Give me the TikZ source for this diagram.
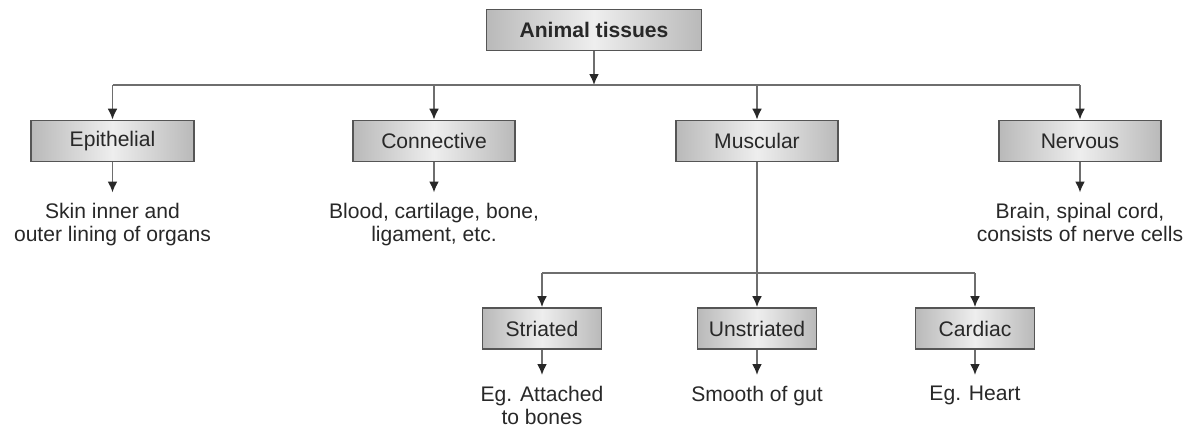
\documentclass[tikz,border=0pt]{standalone}
\usepackage{fontspec}
\setmainfont{Liberation Sans}
\usepackage{xcolor}
\usetikzlibrary{
  arrows.meta,
  positioning,
  calc,
}
\definecolor{boxedge}{RGB}{85,85,85}
\definecolor{boxside}{RGB}{185,185,185}
\definecolor{boxmid}{RGB}{238,238,238}
\definecolor{linecol}{RGB}{110,110,110}
\definecolor{inkcol}{RGB}{40,40,40}
\tikzset{
  tissuebox/.style={
    rectangle, draw=boxedge, line width=1pt,
    left color=boxside, right color=boxside, middle color=boxmid,
    minimum height=0.82cm, inner sep=2pt,
    font=\fontsize{12}{13}\selectfont, text=inkcol
  },
  topbox/.style={tissuebox, minimum width=4.3cm, font=\fontsize{12}{13}\selectfont\bfseries},
  mainbox/.style={tissuebox, minimum width=3.25cm},
  subbox/.style={tissuebox, minimum width=2.38cm},
  notetext/.style={
    align=center, inner xsep=1pt, inner ysep=6pt,
    font=\fontsize{12}{13}\selectfont, text=inkcol, anchor=north
  },
  downarrow/.style={
    draw=linecol, line width=1.1pt,
    -{Latex[length=2.2mm,width=2mm,color=inkcol]}
  },
  busline/.style={draw=linecol, line width=1.1pt},
}

\begin{document}
\begin{tikzpicture}
  \useasboundingbox (0,0) rectangle (23.78,-8.54);

  % ── Root ──
  \node[topbox] (tissues) at (11.88,-0.6) {Animal tissues};

  % ── Main tissue types ──
  \node[mainbox] (epith) at (2.25,-2.82) {Epithelial};
  \node[mainbox] (conn)  at (8.68,-2.82) {Connective};
  \node[mainbox] (musc)  at (15.14,-2.82) {Muscular};
  \node[mainbox] (nerv)  at (21.6,-2.82) {Nervous};

  % ── Muscle types ──
  \node[subbox] (striat)   at (10.84,-6.57) {Striated};
  \node[subbox] (unstriat) at (15.14,-6.57) {Unstriated};
  \node[subbox] (cardiac)  at (19.5,-6.57) {Cardiac};

  % ── Descriptions ──
  \node[notetext] (epithnote) at (2.25,-3.85)
    {Skin inner and\\outer lining of organs};
  \node[notetext] (connnote) at (8.68,-3.85)
    {Blood, cartilage, bone,\\ligament, etc.};
  \node[notetext] (nervnote) at (21.6,-3.85)
    {Brain, spinal cord,\\consists of nerve cells};
  \node[notetext] (striatnote) at (10.84,-7.5)
    {Eg. Attached\\to bones};
  \node[notetext] (unstriatnote) at (15.14,-7.5) {Smooth of gut};
  \node[notetext] (cardiacnote) at (19.5,-7.5) {Eg. Heart};

  % ── Branch lines ──
  \coordinate (busA) at (0,-1.7);
  \coordinate (busB) at (0,-5.46);

  \draw[downarrow] (tissues.south) -- (tissues.south |- busA);
  \draw[busline] (epith.north |- busA) -- (nerv.north |- busA);
  \foreach \n in {epith,conn,musc,nerv} {
    \draw[downarrow] (\n.north |- busA) -- (\n.north);
  }

  \draw[downarrow] (musc.south) -- (unstriat.north);
  \draw[busline] (striat.north |- busB) -- (cardiac.north |- busB);
  \foreach \n in {striat,cardiac} {
    \draw[downarrow] (\n.north |- busB) -- (\n.north);
  }

  % ── Arrows to descriptions ──
  \foreach \n in {epith,conn,nerv,striat,unstriat,cardiac} {
    \draw[downarrow] (\n.south) -- (\n note.north);
  }

\end{tikzpicture}
\end{document}
